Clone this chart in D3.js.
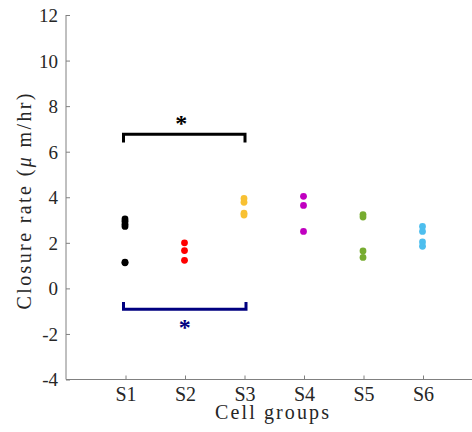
<!DOCTYPE html>
<html>
<head>
<meta charset="utf-8">
<script src="https://cdn.jsdelivr.net/npm/d3@7"></script>
<style>
  html, body { margin: 0; padding: 0; background: #fff; }
  svg { display: block; }
  text { font-family: "Liberation Serif", "DejaVu Serif", serif; }
</style>
</head>
<body>
<svg id="chart" width="472" height="432"></svg>
<script>
// Cell groups and measured closure rates (µm/hr)
const groups = ["S1", "S2", "S3", "S4", "S5", "S6"];
const colors = ["#000000", "#FF0000", "#F8C133", "#C000C0", "#77AC30", "#4DBEEE"];
const s1 = [3.05, 2.95, 2.82, 2.72, 1.15, 1.12];
const s2 = [2.0, 1.66, 1.23];
const s3 = [3.95, 3.78, 3.3, 3.22];
const s4 = [4.04, 3.64, 2.5];
const s5 = [3.24, 3.13, 1.64, 1.36];
const s6 = [2.72, 2.5, 2.04, 1.85];
const yTicks = [-4, -2, 0, 2, 4, 6, 8, 10, 12];

// Significance brackets between S1 and S3
const brackets = [
  { from: 1, to: 3, level: 6.76, tip: 6.4, color: "#000000", starAbove: true },
  { from: 1, to: 3, level: -0.92, tip: -0.6, color: "#000080", starAbove: false }
];

const series = [s1, s2, s3, s4, s5, s6];

const svg = d3.select("#chart");
const x = d3.scaleLinear().domain([0, 7]).range([66, 482.5]);
const y = d3.scaleLinear().domain([-4, 12]).range([379.5, 15]);

const axisColor = "#808080";
const textColor = "#262626";

// Left axis with inward ticks
const yAxis = d3.axisRight(y).tickValues(yTicks).tickSize(4).tickFormat(d => String(d));
const gy = svg.append("g").attr("transform", `translate(${x(0)},0)`).call(yAxis);
gy.attr("font-family", null).attr("font-size", null);
gy.select(".domain").attr("stroke", axisColor).attr("d", `M0,${y(12)}V${y(-4)}`);
gy.selectAll(".tick line").attr("stroke", axisColor);
gy.selectAll(".tick text")
  .attr("x", -8).attr("text-anchor", "end").attr("dy", "0.34em")
  .attr("fill", textColor).style("font-size", "19px");

// Bottom axis with inward ticks
const xAxis = d3.axisTop(x).tickValues([1, 2, 3, 4, 5, 6]).tickSize(4)
  .tickFormat(d => groups[d - 1]);
const gx = svg.append("g").attr("transform", `translate(0,${y(-4)})`).call(xAxis);
gx.attr("font-family", null).attr("font-size", null);
gx.select(".domain").attr("stroke", axisColor).attr("d", `M${x(0)},0H472`);
gx.selectAll(".tick line").attr("stroke", axisColor);
gx.selectAll(".tick text")
  .attr("y", 21.5).attr("dy", 0).attr("text-anchor", "middle")
  .attr("fill", textColor).style("font-size", "20px");

// Axis titles
svg.append("text")
  .attr("x", 272).attr("y", 419).attr("text-anchor", "middle")
  .attr("fill", textColor).style("font-size", "20px")
  .attr("textLength", 114).attr("lengthAdjust", "spacing")
  .text("Cell groups");

const yl = svg.append("text")
  .attr("transform", `translate(31,201.5) rotate(-90)`)
  .attr("text-anchor", "middle")
  .attr("fill", textColor).style("font-size", "20px")
  .attr("textLength", 216).attr("lengthAdjust", "spacing");
yl.append("tspan").text("Closure rate  (");
yl.append("tspan").style("font-style", "italic").text("μ");
yl.append("tspan").text(" m/hr)");

// Data points
series.forEach((vals, i) => {
  svg.append("g").selectAll("circle")
    .data(vals).enter().append("circle")
    .attr("cx", x(i + 1) - 0.5)
    .attr("cy", d => y(d))
    .attr("r", 3.4)
    .attr("fill", colors[i]);
});

// Brackets with significance stars
brackets.forEach(b => {
  const x0 = x(b.from) - 2, x1 = x(b.to) + 0.5 + (b.starAbove ? 0 : 1);
  svg.append("path")
    .attr("d", `M${x0},${y(b.tip)}V${y(b.level)}H${x1}V${y(b.tip)}`)
    .attr("fill", "none").attr("stroke", b.color).attr("stroke-width", 3);
  const sx = (x0 + x1) / 2 + (b.starAbove ? -3 : 0);
  const sy = b.starAbove ? y(b.level) - 3 : y(b.level) + 26;
  svg.append("text")
    .attr("x", sx).attr("y", sy).attr("text-anchor", "middle")
    .attr("fill", b.color).style("font-size", "24px").style("font-weight", "bold")
    .text("*");
});
</script>
</body>
</html>
